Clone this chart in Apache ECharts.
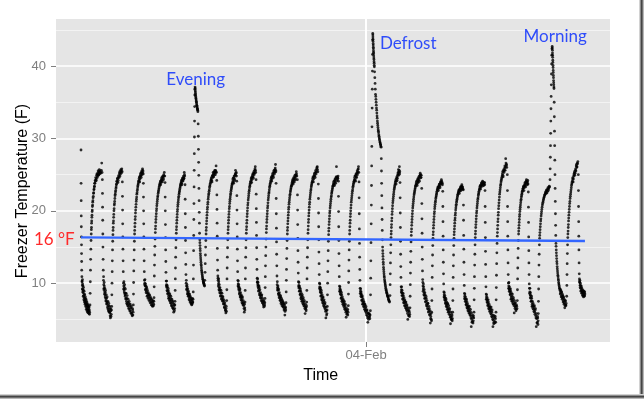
<!DOCTYPE html>
<html><head><meta charset="utf-8">
<script src="https://cdn.jsdelivr.net/npm/echarts@6/dist/echarts.min.js"></script>
<style>html,body{margin:0;padding:0;background:#fff}#c{width:644px;height:399px}</style>
</head><body><div id="c"></div>
<script>
// first logger reading; every series time below is in minutes after it
const firstReading = '2014-02-03T12:00:00';
const xTickDates = ['2014-02-04T00:00:00'];
const yTicks = [10, 20, 30, 40];
const yMinorTicks = [5, 15, 25, 35, 45];
const refLabel = '16 °F';
// linear fit (minutes, °F)
const fitLine = [[0, 16.34], [1273, 15.83]];
// annotations: text, minutes, °F
const noteText = ['Evening', 'Defrost', 'Morning'];
const noteMin = [215.5, 755, 1118];
const noteTemp = [38.2, 43.1, 44.1];

// readings per compressor cycle: flat pairs [minute, °F, minute, °F, ...]
const c01 = [0,28.4, 0.2,23.8, 0.4,21.4, 0.6,19.3, 0.8,17.8, 1,16.4, 1.2,15.3, 1.4,14.1, 1.6,13, 1.8,11.8,
2.2,10.9, 2.8,10.3, 3.4,9.7, 4,9.9, 4.6,9.1, 5.3,8.7, 6,9, 6.7,8.3, 7.5,8, 8.3,8.5, 9,7.6, 9.8,7.9, 10.6,7.3, 11.4,7.7, 12.2,7, 13,7.4, 13.8,6.7, 14.6,7.1, 15.4,6.5, 16.2,6.9, 17,6.3, 17.8,6.7, 18.6,6.1, 19.4,6.5, 20.2,5.8, 21,6.3, 21.8,6,
22.7,7, 23.1,8.6, 23.5,10.2, 23.9,11.8, 24.3,13.3, 24.8,14.7, 25.3,15.9,
25.8,16.8, 26.4,17.7, 27,18.6, 27.7,19.4, 28.4,20.1, 29.2,20.8, 30,21.4, 31,22, 32,22.5, 33,23, 34,23.4, 35,23.8,
36.5,24.1, 38,24.4, 39.5,24.9, 41,24.6, 42.5,25.2, 44,24.9, 45.5,25.4, 47,25.1, 48.5,25.5, 50,25.2, 51.5,25.6, 52.3,26.6, 53.2,25.3];
const c02 = [53.9,24.3, 54.2,22.4, 54.5,20.5, 54.8,18.7, 55.1,16.8, 55.4,15, 55.8,13.3, 56.2,11.8,
56.7,10.4, 57.4,9.8, 58.1,9.3, 58.9,9.6, 59.7,8.8, 60.6,8.4, 61.5,8.7, 62.4,7.9, 63.4,7.5, 64.4,7.9, 65.4,7.1, 66.5,7.4, 67.6,6.8, 68.7,6.4, 69.8,6.9, 70.9,6.1, 72,6.5, 73.1,5.9, 74.2,5.2, 75.3,6.2, 76.4,5.7,
77.5,6.8, 77.9,8.4, 78.3,10, 78.7,11.6, 79.1,13.1, 79.6,14.6, 80.1,15.8,
80.6,16.7, 81.3,17.7, 82,18.6, 82.8,19.5, 83.6,20.3, 84.5,21, 85.5,21.7, 86.5,22.3, 87.6,22.8, 88.7,23.3, 89.8,23.7,
91,24, 92.5,24.5, 94,24.2, 95.5,24.9, 97,25.2, 98.5,24.8, 100,25.5, 101.5,25.2, 103,25.8, 104,25.4];
const c03 = [104.4,24, 104.7,22, 105,20.1, 105.3,18.2, 105.6,16.4, 105.9,14.7, 106.3,13.1, 106.7,11.6,
107.2,10, 108,9.6, 108.8,9.1, 109.7,9.4, 110.6,8.6, 111.6,8.2, 112.6,8.6, 113.7,7.8, 114.8,7.5, 116,7.9, 117.2,7.1, 118.4,7.4, 119.7,6.8, 121,7.2, 122.3,6.5, 123.6,6.9, 125,6.2, 126.4,6.6, 127.8,5.9, 129.2,5.5, 130.6,6.3, 131.6,6,
132.1,7, 132.5,8.5, 132.9,10.1, 133.3,11.7, 133.8,13.2, 134.3,14.6, 134.8,15.8,
135.3,16.8, 136,17.8, 136.8,18.8, 137.6,19.7, 138.5,20.5, 139.5,21.3, 140.5,21.9, 141.6,22.5, 142.7,23, 143.8,23.5, 145,23.9,
146.3,24.2, 147.6,24.7, 148.9,24.4, 150.2,25, 151.5,24.8, 152.8,25.3, 154.1,25, 155.3,25.8, 156.5,25.4, 157.2,25.1];
const c04 = [157.5,23.8, 157.8,21.9, 158.1,20, 158.4,18.2, 158.7,16.4, 159,14.7, 159.4,13.1, 159.8,11.6,
160.3,10.4, 161.1,10, 162,9.6, 163,9.9, 164,9.2, 165.1,8.9, 166.2,9.3, 167.4,8.6, 168.6,8.3, 169.9,8.7, 171.2,8, 172.5,8.3, 173.9,7.7, 175.3,8.1, 176.7,7.4, 178.1,7.8, 179.5,7.2, 180.9,6.8, 182.3,7.6, 183.6,7.1,
184.4,8, 184.8,9.5, 185.2,11, 185.6,12.5, 186.1,13.9, 186.6,15.1, 187.1,16.1,
187.7,17, 188.4,17.9, 189.2,18.8, 190.1,19.6, 191,20.3, 192,21, 193.1,21.6, 194.2,22.1, 195.4,22.6, 196.6,23, 197.9,23.4,
199.2,23.7, 200.6,24.1, 202,23.9, 203.4,24.4, 204.8,24.2, 206.2,24.7, 207.6,24.5, 209,25, 210.4,25.3, 211.6,24.8];
const c05 = [212.3,23.9, 212.6,21.9, 212.9,20, 213.2,18.1, 213.5,16.3, 213.8,14.6, 214.2,13, 214.6,11.5,
215.1,10.3, 215.9,9.8, 216.7,9.4, 217.6,9.7, 218.5,8.9, 219.5,8.6, 220.5,9, 221.6,8.2, 222.7,7.9, 223.9,8.3, 225.1,7.6, 226.3,7.9, 227.6,7.2, 228.9,7.6, 230.2,6.9, 231.5,7.3, 232.8,6.6, 234.1,6, 235.4,6.9, 236.6,6.5,
237.4,7.5, 237.8,9, 238.2,10.6, 238.6,12.1, 239.1,13.6, 239.6,14.9, 240.1,16,
240.7,16.9, 241.4,17.8, 242.2,18.7, 243,19.5, 243.9,20.2, 244.9,20.9, 245.9,21.5, 247,22, 248.1,22.5, 249.3,22.9, 250.5,23.3,
251.7,23.6, 253,24, 254.3,23.8, 255.6,24.3, 256.9,24.1, 258.2,24.6, 259.5,24.4, 260.8,25.3, 262,24.8];
const c06 = [262.8,23.6, 263.1,21.6, 263.4,19.6, 263.7,17.7, 264,15.9, 264.3,14.2, 264.7,12.6, 265.1,11.2,
265.6,10, 266.4,9.6, 267.3,9.2, 268.2,9.5, 269.2,8.8, 270.2,8.5, 271.3,8.9, 272.4,8.2, 273.6,7.9, 274.8,8.3, 276,7.6, 277.2,7.9, 278.4,7.3, 279.6,7, 280.8,7.6, 282,7.3, 283,7.8,
283.5,8.8, 283.8,10.6, 284.1,12.5, 284.4,14.5, 284.7,16.6, 285,18.8, 285.3,21, 285.6,23.3, 285.9,25.6, 286.2,27.9, 286.5,30.2, 286.8,32.4, 287.1,34.4, 287.4,36,
287.7,36.8, 288.1,37.1, 288.6,36.6, 289.2,36.2, 289.8,35.8, 290.5,35.5, 291.2,35.1, 292,34.8, 292.8,34.5, 293.6,34.2, 294.4,34, 295.2,33.7,
295.9,32, 296.3,30.3, 296.7,28.5, 297.1,26.7, 297.5,24.9, 297.9,23.1, 298.3,21.4, 298.7,19.8, 299.1,18.3, 299.5,16.9,
300,16, 300.6,15.2, 301.2,14.5, 301.9,13.8, 302.6,13.2, 303.4,12.6, 304.2,12.1, 305.1,11.6, 306,11.2, 307,10.8, 308,10.5, 309,10.2, 310,10, 311,9.8, 312,9.6];
const c07 = [312.8,10.4, 313.3,11.5, 313.8,12.7, 314.3,13.9, 314.8,15, 315.3,15.9,
315.9,16.8, 316.6,17.7, 317.4,18.6, 318.2,19.4, 319.1,20.2, 320.1,20.9, 321.2,21.6, 322.3,22.2, 323.5,22.7, 324.7,23.2, 326,23.6,
327.4,24, 328.8,24.4, 330.2,24.2, 331.6,24.8, 333,24.6, 334.4,25.1, 335.8,24.9, 337.2,25.4, 338.6,25.2, 340,25.6, 341.2,26.2, 342.2,25.3];
const c08 = [342.9,24.2, 343.2,22.2, 343.5,20.2, 343.8,18.3, 344.1,16.5, 344.4,14.8, 344.8,13.2, 345.2,11.8,
345.7,11, 346.4,10.4, 347.2,9.9, 348,10.2, 348.9,9.4, 349.9,9, 350.9,9.4, 352,8.6, 353.1,8.3, 354.3,8.7, 355.5,7.9, 356.7,8.2, 358,7.5, 359.3,7.8, 360.6,7.1, 361.9,6.7, 363.2,7.3, 364.5,6.3, 365.8,5.9, 367,6.8,
368,7.6, 368.4,9.1, 368.8,10.6, 369.2,12.1, 369.7,13.6, 370.2,14.9, 370.7,16,
371.3,16.9, 372,17.8, 372.8,18.7, 373.6,19.5, 374.5,20.3, 375.5,21, 376.5,21.6, 377.6,22.2, 378.7,22.7, 379.9,23.1, 381.1,23.5,
382.4,23.8, 383.7,24.3, 385,24, 386.3,24.6, 387.6,24.4, 388.9,24.9, 390.2,25.6, 391.5,25.2, 392.7,24.8];
const c09 = [393.4,24.1, 393.7,22.1, 394,20.1, 394.3,18.2, 394.6,16.4, 394.9,14.7, 395.3,13.1, 395.7,11.6,
396.2,10.4, 396.9,9.9, 397.7,9.5, 398.5,9.8, 399.4,9, 400.4,8.7, 401.4,9.1, 402.5,8.3, 403.6,8, 404.8,8.4, 406,7.6, 407.2,7.9, 408.5,7.2, 409.8,7.6, 411.1,6.9, 412.4,6, 413.6,6.6,
414.3,7.4, 414.7,9, 415.1,10.6, 415.5,12.1, 416,13.6, 416.5,14.9, 417,16,
417.6,16.9, 418.3,17.8, 419.1,18.7, 419.9,19.6, 420.8,20.4, 421.8,21.1, 422.9,21.8, 424,22.4, 425.2,22.9, 426.4,23.4, 427.7,23.8,
429,24.1, 430.4,24.6, 431.8,24.3, 433.2,24.9, 434.6,24.7, 436,25.2, 437.4,25, 438.8,25.6, 440.2,26.1, 441.4,25.3];
const c10 = [442.2,24.3, 442.5,22.3, 442.8,20.3, 443.1,18.4, 443.4,16.6, 443.7,14.9, 444.1,13.3, 444.5,11.9,
445,10.7, 445.7,10.2, 446.5,9.8, 447.3,10.1, 448.2,9.3, 449.2,9, 450.2,9.4, 451.3,8.6, 452.4,8.3, 453.6,8.7, 454.8,7.9, 456,8.2, 457.3,7.5, 458.6,7.9, 459.9,7.2, 461.2,6.7, 462.5,7.4, 463.8,7,
464.8,7.9, 465.2,9.4, 465.6,10.9, 466,12.4, 466.5,13.8, 467,15, 467.5,16.1,
468.1,17, 468.8,17.9, 469.6,18.8, 470.4,19.6, 471.3,20.4, 472.3,21.1, 473.4,21.8, 474.5,22.4, 475.7,22.9, 476.9,23.4, 478.2,23.8,
479.5,24.2, 481,24.7, 482.5,24.4, 484,25, 485.5,24.8, 487,25.4, 488.5,25.1, 490,25.7, 491.3,26.4, 492.2,25.4];
const c11 = [492.7,23.8, 493,21.7, 493.3,19.6, 493.6,17.6, 493.9,15.7, 494.2,14, 494.6,12.4, 495,11,
495.5,9.8, 496.3,9.4, 497.1,9, 498,9.3, 499,8.6, 500,8.3, 501.1,8.7, 502.2,8, 503.4,7.7, 504.6,8.1, 505.8,7.4, 507.1,7.7, 508.4,7.1, 509.7,7.4, 511,6.8, 512.3,7.1, 513.6,6.5, 514.9,5.6, 516.2,6.7, 517.2,6.3,
517.9,7.3, 518.3,8.8, 518.7,10.4, 519.1,11.9, 519.6,13.4, 520.1,14.8, 520.6,15.9,
521.2,16.8, 521.9,17.7, 522.7,18.6, 523.5,19.4, 524.4,20.2, 525.4,20.9, 526.5,21.5, 527.6,22.1, 528.8,22.6, 530,23, 531.3,23.4,
532.6,23.7, 534,24.1, 535.4,23.9, 536.8,24.4, 538.2,24.2, 539.6,24.7, 541,24.5, 542.4,25, 543.8,25.4, 545.2,24.8];
const c12 = [546.5,24.3, 546.8,22.2, 547.1,20.1, 547.4,18.1, 547.7,16.2, 548,14.5, 548.4,12.9, 548.8,11.4,
549.3,10.2, 550.1,9.7, 550.9,9.3, 551.8,9.6, 552.8,8.9, 553.8,8.5, 554.9,8.9, 556,8.1, 557.2,7.8, 558.4,8.2, 559.6,7.5, 560.9,7.8, 562.2,7.1, 563.5,7.4, 564.8,6.8, 566.1,5.8, 567.4,6.6, 568.7,6.2, 569.6,6.9,
570.1,7.4, 570.5,9, 570.9,10.6, 571.3,12.1, 571.8,13.6, 572.3,14.9, 572.8,16,
573.4,16.9, 574.1,17.9, 574.9,18.8, 575.7,19.7, 576.6,20.5, 577.6,21.2, 578.7,21.9, 579.8,22.5, 581,23, 582.2,23.5, 583.5,23.9,
584.8,24.2, 586.3,24.7, 587.8,24.4, 589.3,25, 590.8,24.8, 592.3,25.3, 593.8,25.1, 595.3,25.8, 596.8,26.1, 598.3,25.4];
const c13 = [599.5,23.7, 599.8,21.7, 600.1,19.7, 600.4,17.8, 600.7,16, 601,14.3, 601.4,12.7, 601.8,11.2,
602.3,10, 603,9.5, 603.8,9.1, 604.6,9.4, 605.5,8.7, 606.5,8.3, 607.5,8.7, 608.6,7.9, 609.7,7.6, 610.9,8, 612.1,7.2, 613.3,7.5, 614.6,6.8, 615.9,7.1, 617.2,6.4, 618.5,5.2, 619.8,6.2, 621.1,5.8,
622.2,6.8, 622.6,8.4, 623,10, 623.4,11.6, 623.9,13.1, 624.4,14.5, 624.9,15.8,
625.5,16.7, 626.2,17.6, 627,18.5, 627.8,19.3, 628.7,20, 629.7,20.7, 630.8,21.3, 631.9,21.9, 633.1,22.4, 634.3,22.8, 635.6,23.2,
636.9,23.5, 638.3,23.9, 639.7,23.7, 641.1,24.2, 642.5,24, 643.9,24.5, 645.3,26.1, 646.7,24.7, 648.1,24.4, 649.4,24.8];
const c14 = [650.1,24.1, 650.4,22, 650.7,19.9, 651,17.8, 651.3,15.9, 651.6,14.1, 652,12.4, 652.4,10.9,
652.9,9.6, 653.7,9.2, 654.5,8.8, 655.4,9.1, 656.4,8.4, 657.4,8, 658.5,8.4, 659.6,7.7, 660.8,7.4, 662,7.8, 663.2,7, 664.5,7.3, 665.8,6.6, 667.1,6.9, 668.4,6.3, 669.7,5.3, 671,6.1, 672.3,5.8, 673.6,6.4, 674.6,6,
675.2,6.9, 675.6,8.5, 676,10.1, 676.4,11.7, 676.9,13.2, 677.4,14.6, 677.9,15.8,
678.5,16.8, 679.2,17.8, 680,18.7, 680.8,19.6, 681.7,20.4, 682.7,21.2, 683.8,21.8, 684.9,22.4, 686.1,22.9, 687.3,23.4, 688.6,23.8,
689.9,24.1, 691.3,24.6, 692.7,24.3, 694.1,24.9, 695.5,24.7, 696.9,25.2, 698.3,25, 699.7,25.7, 700.9,26.1, 701.8,25.3];
const c15 = [702.3,24, 702.6,21.8, 702.9,19.6, 703.2,17.5, 703.5,15.5, 703.8,13.6, 704.2,11.9, 704.6,10.4,
705.1,9.3, 705.9,8.9, 706.7,8.5, 707.6,8.8, 708.6,8.1, 709.6,7.7, 710.7,8.1, 711.8,7.4, 713,7.1, 714.2,7.5, 715.4,6.7, 716.7,7, 718,6.3, 719.3,6.6, 720.6,5.9, 721.9,6.2, 723.2,5.5, 724.5,4.6, 725.8,5.8, 727.1,5.3, 728.4,5.7, 729.7,5.1,
731,6.2, 731.4,8.4, 731.8,10.7, 732.2,13.1, 732.6,15.6, 733,18.2, 733.4,20.8, 733.8,23.5, 734.2,26.2, 734.6,28.9, 735,31.6, 735.4,34.2, 735.8,36.8, 736.1,39.3, 736.4,41.6, 736.7,43.6,
737,44.5, 737.4,44, 737.8,43.4, 738.2,42.9, 738.6,42.4, 739,41.9, 739.5,41.4, 740,40.9, 740.5,40.4, 741,39.9,
741.6,39.2, 742.2,38.4, 742.8,37.6, 743.4,36.8, 744,36.1,
744.6,35.8, 745.5,35, 746.4,34.2, 747.3,33.5, 748.2,32.8, 749.2,32.1, 750.2,31.5, 751.2,31, 752.3,30.5, 753.4,30.1, 754.5,29.7, 755.7,29.4, 756.9,29.1, 758.1,28.8,
758.6,27.2, 759,25.5, 759.4,23.8, 759.8,22.1, 760.2,20.4, 760.6,18.8, 761,17.3, 761.4,16,
761.9,15, 762.5,14.1, 763.1,13.3, 763.8,12.6, 764.6,11.9, 765.4,11.3, 766.3,10.8, 767.3,10.3, 768.3,9.9, 769.4,9.5, 770.5,9.1, 771.7,8.8, 772.9,8.6, 774.1,8.3, 775.4,8.1, 776.7,7.8, 778,7.6, 779.3,7.4];
const c16 = [780.5,8.3, 780.9,9.8, 781.3,11.3, 781.7,12.8, 782.2,14.2, 782.7,15.3,
783.2,16.3, 783.8,17.2, 784.5,18.1, 785.3,19, 786.2,19.9, 787.1,20.7, 788.1,21.4, 789.2,22, 790.3,22.6, 791.5,23.1, 792.7,23.5,
794,23.9, 795.3,24.3, 796.6,24.1, 797.9,24.7, 799.2,24.5, 800.5,25.1, 801.8,25.7, 803.1,25.3, 804.3,26.1, 805.3,25.4];
const c17 = [805.9,23.9, 806.2,21.8, 806.5,19.7, 806.8,17.7, 807.1,15.8, 807.4,14, 807.8,12.3, 808.2,10.8,
808.7,9.5, 809.5,9.1, 810.3,8.7, 811.2,9, 812.2,8.3, 813.2,7.9, 814.3,8.3, 815.4,7.6, 816.6,7.3, 817.8,7.7, 819,6.9, 820.3,7.2, 821.6,6.5, 822.9,6.8, 824.2,6.1, 825.5,5, 826.8,6.3, 828.1,5.6, 829.4,6, 830.4,5.7,
831,6.6, 831.4,8.2, 831.8,9.8, 832.2,11.4, 832.7,12.9, 833.2,14.4, 833.7,15.7,
834.3,16.6, 835,17.5, 835.8,18.4, 836.6,19.2, 837.5,20, 838.5,20.7, 839.6,21.3, 840.7,21.9, 841.9,22.4, 843.1,22.8, 844.4,23.2,
845.7,23.5, 847.1,23.9, 848.5,23.7, 849.9,24.2, 851.3,24, 852.7,24.5, 854.1,24.3, 855.5,24.8, 856.9,25.2, 858.3,24.6, 859.6,24.9];
const c18 = [860.7,23.1, 861,21, 861.3,18.9, 861.6,16.9, 861.9,15, 862.2,13.3, 862.6,11.7,
863.1,10.5, 863.8,9.6, 864.6,9.2, 865.5,9.5, 866.5,8.7, 867.5,8.3, 868.6,8.7, 869.7,7.9, 870.9,7.5, 872.1,7.9, 873.3,7.1, 874.6,6.8, 875.9,7.2, 877.2,6.4, 878.5,6.1, 879.8,6.5, 881.1,5.7, 882.4,4.5, 883.7,5.4, 885,5,
885.9,6, 886.3,7.6, 886.7,9.2, 887.1,10.8, 887.6,12.4, 888.1,13.9, 888.6,15.2,
889.2,16.2, 889.9,17.1, 890.7,18, 891.5,18.8, 892.4,19.6, 893.4,20.3, 894.5,20.9, 895.6,21.4, 896.8,21.9, 898,22.3, 899.3,22.7,
900.6,23, 902,23.3, 903.4,23.1, 904.8,23.6, 906.2,23.4, 907.6,23.8, 909,24, 910.4,24.3, 911.8,23.9, 913,23.6];
const c19 = [913.8,22.7, 914.1,20.6, 914.4,18.5, 914.7,16.5, 915,14.6, 915.3,12.9, 915.7,11.3, 916.1,9.9,
916.6,8.8, 917.4,8.4, 918.2,8, 919.1,8.3, 920.1,7.6, 921.1,7.3, 922.2,7.7, 923.3,7, 924.5,6.7, 925.7,7.1, 926.9,6.3, 928.2,6.6, 929.5,6, 930.8,6.3, 932.1,5.6, 933.4,4.4, 934.7,5.3, 936,5, 937.3,5.5, 938.3,5.1,
938.9,6, 939.3,7.6, 939.7,9.2, 940.1,10.8, 940.6,12.4, 941.1,13.9, 941.6,15.2,
942.2,16.2, 942.9,17.1, 943.7,17.9, 944.5,18.7, 945.4,19.4, 946.4,20.1, 947.5,20.7, 948.6,21.2, 949.8,21.6, 951,22, 952.3,22.3,
953.6,22.6, 955,22.9, 956.4,22.7, 957.8,23.1, 959.2,22.9, 960.6,23.3, 962,23.6, 963.4,23.2, 964.7,23];
const c20 = [965.8,22.9, 966.1,20.8, 966.4,18.7, 966.7,16.6, 967,14.7, 967.3,12.9, 967.7,11.2, 968.1,9.7,
968.6,8.6, 969.4,8.2, 970.3,7.8, 971.2,8.1, 972.2,7.4, 973.3,7.1, 974.4,7.5, 975.6,6.8, 976.8,6.5, 978,6.9, 979.3,6.2, 980.6,6.5, 981.9,5.8, 983.2,6.1, 984.5,5.5, 985.8,4, 987.1,5, 988.4,4.7, 989.7,5.3, 991,4.8, 992.1,5.2,
992.7,6, 993.1,7.7, 993.5,9.3, 993.9,10.9, 994.4,12.5, 994.9,14, 995.4,15.3,
996,16.3, 996.7,17.2, 997.5,18.1, 998.3,18.9, 999.2,19.7, 1000.2,20.4, 1001.3,21, 1002.4,21.6, 1003.6,22.1, 1004.8,22.5, 1006.1,22.9,
1007.4,23.2, 1008.8,23.5, 1010.2,23.3, 1011.6,23.8, 1013,23.6, 1014.4,24.1, 1015.8,23.8, 1017.2,23.5, 1018.6,23.9, 1019.8,23.6];
const c21 = [1020.6,22.8, 1020.9,20.6, 1021.2,18.4, 1021.5,16.3, 1021.8,14.4, 1022.1,12.6, 1022.5,10.9, 1022.9,9.5,
1023.4,8.5, 1024.2,8.1, 1025.1,7.7, 1026,8, 1027,7.3, 1028.1,7, 1029.2,7.4, 1030.4,6.7, 1031.6,6.4, 1032.8,6.8, 1034.1,6.1, 1035.4,6.4, 1036.7,5.7, 1038,6, 1039.3,5.3, 1040.6,4, 1041.9,4.9, 1043.2,4.6, 1044.5,5.2, 1045.8,4.7, 1047.1,5.1,
1048.3,6, 1048.7,7.7, 1049.1,9.4, 1049.5,11.1, 1050,12.7, 1050.5,14.2, 1051,15.5,
1051.6,16.5, 1052.3,17.5, 1053.1,18.5, 1053.9,19.4, 1054.8,20.3, 1055.8,21.1, 1056.9,21.9, 1058,22.6, 1059.2,23.2, 1060.4,23.7, 1061.7,24.2,
1063,24.6, 1064.4,25.1, 1065.8,24.9, 1067.2,25.5, 1068.6,25.3, 1070,25.9, 1071.4,25.6, 1072.8,27.2, 1074.2,26.3, 1075.6,26];
const c22 = [1076.9,25, 1077.2,22.8, 1077.5,20.6, 1077.8,18.5, 1078.1,16.5, 1078.4,14.6, 1078.8,12.8, 1079.2,11.2,
1079.7,10, 1080.5,9.6, 1081.4,9.2, 1082.3,9.5, 1083.3,8.8, 1084.4,8.5, 1085.5,8.9, 1086.7,8.1, 1087.9,7.8, 1089.1,8.2, 1090.4,7.5, 1091.7,7.8, 1093,7.1, 1094.3,5.9, 1095.6,7.2, 1096.9,6.7, 1098.2,6.9, 1099.5,6.4, 1100.8,6.8,
1102.1,7.6, 1102.5,9.1, 1102.9,10.6, 1103.3,12.1, 1103.8,13.5, 1104.3,14.8, 1104.8,15.9,
1105.4,16.8, 1106.1,17.6, 1106.9,18.4, 1107.7,19.2, 1108.6,19.9, 1109.6,20.5, 1110.7,21.1, 1111.8,21.6, 1113,22.1, 1114.2,22.5, 1115.5,22.8,
1116.8,23.1, 1118.2,23.4, 1119.6,23.2, 1121,23.7, 1122.4,23.5, 1123.8,23.9, 1125.2,24.3, 1126.6,23.8, 1128,24, 1129.2,23.7];
const c23 = [1130,22.6, 1130.3,20.5, 1130.6,18.4, 1130.9,16.4, 1131.2,14.5, 1131.5,12.8, 1131.9,11.2, 1132.3,9.9,
1132.8,9.3, 1133.6,8.8, 1134.5,8.4, 1135.4,8.7, 1136.4,7.9, 1137.5,7.5, 1138.6,7.9, 1139.8,7.1, 1141,6.8, 1142.2,7.2, 1143.5,6.4, 1144.8,6.7, 1146.1,6, 1147.4,6.3, 1148.7,5.5, 1150,4, 1151.3,5.1, 1152.6,4.6, 1153.9,5.2, 1154.8,4.8,
1155.2,5.8, 1155.6,7.5, 1156,9.2, 1156.4,10.9, 1156.9,12.5, 1157.4,14, 1157.9,15.3,
1158.5,16.2, 1159.3,17, 1160.2,17.8, 1161.2,18.6, 1162.3,19.3, 1163.5,19.9, 1164.8,20.5, 1166.2,21, 1167.7,21.4, 1169.2,21.8, 1170.8,22.1, 1172.4,22.3, 1174,22.6, 1175.6,22.8, 1177.2,22.5, 1178.8,23, 1180.4,22.8, 1182,23.2, 1183.6,23.3,
1184.8,24.3, 1185.2,25.8, 1185.6,27.4, 1186,29, 1186.4,30.7, 1186.8,32.4, 1187.2,34.1, 1187.6,35.8, 1188,37.4, 1188.4,38.9, 1188.8,40.3, 1189.2,41.5, 1189.7,42.4,
1190.3,42.7, 1190.8,42.2, 1191.3,41.5, 1191.8,40.8, 1192.3,40.1, 1192.8,39.4, 1193.3,38.7, 1193.8,38, 1194.3,37.4, 1194.8,36.9,
1195.3,35, 1195.7,33, 1196.1,31, 1196.5,29, 1196.9,27, 1197.3,25, 1197.7,23.1, 1198.1,21.3, 1198.5,19.6, 1198.9,18, 1199.3,16.6,
1199.8,15.5, 1200.5,14.6, 1201.2,13.8, 1202,13, 1202.8,12.3, 1203.7,11.7, 1204.6,11.1, 1205.6,10.6, 1206.6,10.1, 1207.7,9.7, 1208.8,9.3, 1210,9, 1211.2,8.7, 1212.4,8.9, 1213.6,8.3, 1214.8,8.6, 1216,8, 1217.2,8.2, 1218.4,7.6, 1219.6,7.9, 1220.8,7.3, 1222,6.6, 1223.2,7.5, 1224.4,7, 1225.6,7.2];
const c24 = [1226.9,8.2, 1227.3,9.7, 1227.7,11.2, 1228.1,12.7, 1228.6,14.1, 1229.1,15.3,
1229.7,16.3, 1230.4,17.2, 1231.2,18.1, 1232,19, 1232.9,19.8, 1233.9,20.6, 1235,21.3, 1236.1,22, 1237.3,22.6, 1238.5,23.2, 1239.8,23.7,
1241.1,24.1, 1242.5,24.6, 1243.9,24.4, 1245.3,25, 1246.7,25.4, 1248.1,25.2, 1249.5,25.8, 1250.9,26.2, 1252.3,26, 1253.7,26.6, 1255.1,26.8,
1256.3,25, 1256.6,22.8, 1256.9,20.6, 1257.2,18.5, 1257.5,16.5, 1257.8,14.6, 1258.2,12.8, 1258.6,11.3,
1259.1,10.6, 1259.8,10.1, 1260.6,9.7, 1261.4,10, 1262.3,9.3, 1263.3,9, 1264.3,9.4, 1265.4,8.7, 1266.5,8.9, 1267.6,8.4, 1268.7,8.7, 1269.8,8.3, 1270.9,8.6, 1272,8.3, 1273,8.5];

// additional readings in the slow (dense) phases of each cycle
const e01 = [2.5,10.2, 3.1,9.2, 3.7,10.5, 4.3,8.8, 5,9.6, 5.6,8.2, 6.4,9.4, 7.1,7.7, 7.9,8.9, 8.7,7.4, 9.4,8.4, 10.2,7.1, 11,8.1, 11.8,6.8, 12.6,7.8, 13.4,6.4, 14.2,7.5, 15,6.2, 15.8,7.2, 16.6,6, 17.4,7, 18.2,5.9, 19,6.8, 19.8,6.2, 20.6,6.7, 21.4,5.7,
26.1,17.4, 26.7,18.3, 27.4,19.1, 28.1,19.9, 28.8,20.6, 29.6,21.2, 30.5,21.8, 31.5,22.4, 32.5,22.9, 33.5,23.3, 34.5,23.8, 35.7,24.2, 37.2,24.6, 38.7,24.2, 40.2,25.1, 41.7,24.8, 43.2,25.5, 44.7,25, 46.2,25.7, 47.7,25.3];
const e02 = [57,10.9, 57.8,9.1, 58.5,10.1, 59.3,8.5, 60.1,9.3, 61,8.1, 62,9, 63,7.6, 63.9,8.4, 65,7.2, 66,8.1, 67,6.6, 68.1,7.5, 69.2,6.2, 70.3,7.2, 71.4,6, 72.5,6.8, 73.6,5.5, 74.7,6.5, 75.8,5.4, 76.9,6.3,
80.9,17.3, 81.6,18.3, 82.4,19.1, 83.2,20, 84.1,20.8, 85,21.3, 86,22.1, 87,22.6, 88.2,23.1, 89.3,23.6, 90.4,24.1, 91.8,24.4, 93.3,23.9, 94.8,24.7, 96.3,24.6, 97.8,25.4, 99.3,25.1, 100.8,25.7, 102.3,25.5];
const e03 = [107.6,9.2, 108.4,10.2, 109.2,8.8, 110.1,9.8, 111.1,8.4, 112.1,9.2, 113.1,7.9, 114.2,8.6, 115.4,7.2, 116.6,8.3, 117.8,6.9, 119,7.8, 120.3,6.5, 121.6,7.5, 122.9,6.2, 124.3,7.1, 125.7,5.9, 127.1,6.8, 128.5,5.7, 129.9,6.5, 131.1,5.6,
135.6,17.3, 136.4,18.3, 137.2,19.2, 138,20.1, 139,20.9, 140,21.6, 141,22.3, 142.1,22.8, 143.2,23.3, 144.4,23.7, 145.6,24.1, 147,24.5, 148.2,24, 149.6,24.8, 150.9,25.2, 152.1,24.6, 153.4,25.5, 154.7,25.2, 156,25.6];
const e04 = [160.7,9.8, 161.5,10.5, 162.5,9.1, 163.5,9.6, 164.5,8.7, 165.6,9.5, 166.8,8.2, 168,9, 169.2,7.9, 170.5,8.5, 171.8,7.6, 173.2,8.4, 174.6,7.3, 176,7.9, 177.4,7, 178.8,7.6, 180.2,6.9, 181.6,7.4, 183,6.9, 184,7.5,
188,17.5, 188.8,18.4, 189.6,19.2, 190.5,20, 191.5,20.7, 192.5,21.3, 193.6,21.9, 194.8,22.4, 196,22.8, 197.2,23.2, 198.5,23.6, 199.9,23.9, 201.3,23.6, 202.7,24.2, 204.1,24.6, 205.5,24, 206.9,24.8, 208.3,24.3, 209.7,24.8];
const e05 = [215.5,9.6, 216.3,10.3, 217.2,9, 218.1,9.5, 219,8.5, 220,9.3, 221.1,7.9, 222.2,8.7, 223.3,7.6, 224.5,8.5, 225.7,7.3, 227,8.2, 228.3,6.9, 229.6,7.8, 230.9,6.6, 232.2,7.5, 233.5,6.4, 234.8,7.1, 236,6.2, 237,7,
241,17.4, 241.8,18.3, 242.6,19.1, 243.4,19.9, 244.4,20.6, 245.4,21.2, 246.4,21.8, 247.6,22.3, 248.7,22.7, 249.9,23.1, 251.1,23.5, 252.4,23.8, 253.7,24.2, 255,23.6, 256.3,24.5, 257.6,24.2, 258.9,24.8, 260.2,24.5, 261.4,25];
const e06 = [266,10.4, 266.8,9.1, 267.7,9.8, 268.7,8.5, 269.7,9.2, 270.7,8.2, 271.8,8.6, 273,7.7, 274.2,8.5, 275.4,7.4, 276.6,8.1, 277.8,7.2, 279,7.7, 280.2,7.1, 281.4,7.9, 282.5,7.4,
288.4,36.9, 288.9,36.4, 289.5,36, 290.1,35.6, 290.8,35.3, 291.6,35, 292.4,34.6, 293.2,34.4, 294,34.1, 294.8,33.9,
300.3,15.6, 300.9,14.8, 301.5,14.1, 302.2,13.5, 303,12.9, 303.8,12.4, 304.6,11.8, 305.5,11.4, 306.5,11, 307.5,10.6, 308.5,10.3, 309.5,10.1, 310.5,9.9, 311.5,9.7];
const e07 = [316.2,17.3, 317,18.2, 317.8,19, 318.6,19.8, 319.6,20.5, 320.6,21.2, 321.7,21.9, 322.9,22.4, 324.1,22.9, 325.3,23.4, 326.7,23.8, 328.1,24.2, 329.5,24.6, 330.9,24, 332.3,24.9, 333.7,25.3, 335.1,24.7, 336.5,25.3, 337.9,25.6, 339.3,25, 340.6,25.4];
const e08 = [346,10.7, 346.8,9.6, 347.6,10.6, 348.4,9.1, 349.4,9.8, 350.4,8.7, 351.4,9.1, 352.5,8.2, 353.7,9, 354.9,7.8, 356.1,8.6, 357.3,7.6, 358.6,8.1, 359.9,7.2, 361.2,7.6, 362.5,6.6, 363.8,7, 365.1,6.2, 366.4,6.5, 367.5,6.1,
371.6,17.4, 372.4,18.3, 373.2,19.1, 374,19.9, 375,20.6, 376,21.3, 377,21.9, 378.1,22.4, 379.3,22.9, 380.5,23.3, 381.7,23.7, 383,24, 384.3,24.5, 385.6,23.8, 386.9,24.8, 388.2,24.2, 389.5,25.1, 390.8,24.9, 392.1,25.3];
const e09 = [396.5,9.6, 397.3,10.3, 398.1,9.2, 399,9.5, 399.9,8.5, 400.9,9.3, 402,8.1, 403.1,8.7, 404.2,7.7, 405.4,8.2, 406.6,7.3, 407.9,8.1, 409.2,7, 410.5,7.3, 411.7,6.5, 413,7.1, 414,6.3,
417.9,17.4, 418.7,18.3, 419.5,19.2, 420.3,20, 421.3,20.8, 422.3,21.5, 423.5,22.1, 424.6,22.7, 425.8,23.2, 427,23.6, 428.3,24, 429.7,24.4, 431.1,23.9, 432.5,24.7, 433.9,25.1, 435.3,24.5, 436.7,25.4, 438.1,25.2, 439.5,25.8, 440.8,25.6];
const e10 = [445.3,10.1, 446.1,10.6, 446.9,9.5, 447.8,9.7, 448.7,8.9, 449.7,9.6, 450.8,8.4, 451.9,9.1, 453,8, 454.2,8.4, 455.4,7.6, 456.7,8.4, 458,7.3, 459.3,7.6, 460.6,7, 461.9,7.6, 463.2,6.8, 464.3,7.3,
468.4,17.5, 469.2,18.4, 470,19.2, 470.8,20, 471.8,20.7, 472.8,21.5, 473.9,22.1, 475.1,22.6, 476.3,23.2, 477.5,23.6, 478.8,24, 480.3,24.5, 481.7,24.1, 483.2,24.8, 484.7,25.2, 486.2,24.6, 487.7,25.6, 489.2,25.3, 490.6,25.9, 491.8,25.6];
const e11 = [495.9,10.2, 496.7,9.1, 497.5,9.6, 498.5,8.5, 499.5,9.1, 500.5,8, 501.6,8.4, 502.8,7.6, 504,8.3, 505.2,7.2, 506.4,7.9, 507.7,6.9, 509,7.6, 510.3,6.7, 511.6,7.3, 512.9,6.3, 514.2,7, 515.5,6.1, 516.7,6.6,
521.5,17.3, 522.3,18.2, 523.1,19, 524,19.8, 524.9,20.5, 525.9,21.2, 527,21.8, 528.2,22.3, 529.4,22.8, 530.6,23.2, 532,23.5, 533.3,23.9, 534.7,24.3, 536.1,23.7, 537.5,24.6, 538.9,24, 540.3,24.9, 541.7,24.3, 543.1,24.8, 544.5,25.1];
const e12 = [549.7,9.5, 550.5,10.1, 551.4,8.9, 552.3,9.4, 553.3,8.4, 554.3,9.2, 555.4,7.9, 556.6,8.6, 557.8,7.5, 559,8.4, 560.2,7.2, 561.5,8, 562.8,6.9, 564.1,7.6, 565.4,6.5, 566.7,7.1, 568,6.4, 569.2,6.7,
573.7,17.4, 574.5,18.4, 575.3,19.3, 576.2,20.1, 577.1,20.9, 578.1,21.6, 579.2,22.2, 580.4,22.8, 581.6,23.3, 582.8,23.7, 584.1,24, 585.5,24.5, 587,24, 588.5,24.8, 590,25.2, 591.5,24.6, 593,25.6, 594.5,25.4, 596,26, 597.5,25.7];
const e13 = [602.6,9.3, 603.4,9.9, 604.2,8.8, 605,9.2, 606,8.2, 607,9, 608,7.7, 609.1,8.4, 610.3,7.3, 611.5,8.1, 612.7,6.9, 613.9,7.7, 615.2,6.6, 616.5,7.3, 617.8,6.1, 619.1,6.7, 620.4,5.6, 621.6,6.3,
625.8,17.2, 626.6,18.1, 627.4,18.9, 628.2,19.7, 629.2,20.4, 630.2,21, 631.3,21.6, 632.5,22.1, 633.7,22.6, 634.9,23, 636.2,23.4, 637.6,23.7, 639,24.1, 640.4,23.5, 641.8,24.4, 643.2,23.8, 644.6,24.7, 646,24.2, 647.4,24.6, 648.8,24.5];
const e14 = [653.3,8.9, 654.1,9.5, 655,8.5, 655.9,8.9, 656.9,7.9, 657.9,8.7, 659,7.5, 660.2,8.1, 661.4,7.1, 662.6,7.6, 663.8,6.8, 665.1,7.5, 666.4,6.4, 667.7,7.1, 669,6, 670.3,6.6, 671.6,5.7, 672.9,6.2, 674.1,5.6,
678.8,17.3, 679.6,18.3, 680.4,19.2, 681.2,20, 682.2,20.8, 683.2,21.5, 684.3,22.1, 685.5,22.7, 686.7,23.2, 687.9,23.6, 689.2,24, 690.6,24.3, 692,24.8, 693.4,24.1, 694.8,25.1, 696.2,24.6, 697.6,25.5, 699,25.3, 700.3,25.8];
const e15 = [705.5,8.6, 706.3,9.2, 707.1,8.2, 708.1,8.5, 709.1,7.6, 710.1,8.3, 711.2,7.1, 712.4,7.8, 713.6,6.8, 714.8,7.3, 716,6.4, 717.3,7.1, 718.6,6.1, 719.9,6.8, 721.2,5.6, 722.5,6.3, 723.8,5.2, 725.1,5.9, 726.4,5, 727.7,5.8, 729,5.4, 730.3,5.6,
737.2,44.3, 737.6,43.7, 738,43.1, 738.4,42.6, 738.8,42.1, 739.2,41.7, 739.7,41.1, 740.2,40.6, 740.7,40.1,
745,35.4, 746,34.6, 746.9,33.9, 747.8,33.1, 748.7,32.4, 749.7,31.8, 750.7,31.2, 751.7,30.8, 752.8,30.3, 753.9,29.9, 755.1,29.5, 756.3,29.2, 757.5,28.9,
762.2,14.5, 762.8,13.7, 763.5,12.9, 764.2,12.2, 765,11.6, 765.8,11, 766.8,10.5, 767.8,10.1, 768.8,9.7, 769.9,9.3, 771.1,9, 772.3,8.7, 773.5,8.4, 774.8,8.2, 776,8, 777.3,7.7, 778.6,7.5];
const e16 = [783.5,16.8, 784.1,17.7, 784.9,18.6, 785.7,19.5, 786.6,20.3, 787.6,21.1, 788.6,21.7, 789.7,22.3, 790.9,22.9, 792.1,23.3, 793.3,23.7, 794.7,24.1, 796,23.7, 797.2,24.5, 798.5,24.2, 799.8,24.9, 801.1,25.3, 802.4,24.9, 803.7,25.6, 804.9,25.1];
const e17 = [809.1,8.8, 809.9,9.5, 810.7,8.3, 811.7,8.6, 812.7,7.8, 813.7,8.6, 814.8,7.3, 816,8, 817.2,6.9, 818.4,7.5, 819.6,6.6, 820.9,7.4, 822.2,6.3, 823.5,7, 824.8,5.8, 826.1,6.6, 827.4,5.5, 828.7,6.2, 830,5.4,
834.6,17.1, 835.4,18, 836.2,18.8, 837,19.6, 838,20.4, 839,21, 840.1,21.6, 841.3,22.2, 842.5,22.6, 843.7,23, 845,23.4, 846.4,23.7, 847.8,24.1, 849.2,23.5, 850.6,24.4, 852,23.9, 853.4,24.7, 854.8,24.1, 856.2,24.9, 857.6,25, 859,24.6];
const e18 = [863.4,10.1, 864.2,8.9, 865,9.9, 866,8.4, 867,9.1, 868,7.9, 869.1,8.4, 870.3,7.4, 871.5,8.2, 872.7,6.9, 873.9,7.6, 875.2,6.5, 876.5,7.2, 877.8,6, 879.1,6.8, 880.4,5.6, 881.7,6.2, 883,5.1, 884.3,5.8, 885.4,4.8,
889.5,16.7, 890.3,17.6, 891.1,18.4, 892,19.2, 892.9,19.9, 893.9,20.6, 895,21.2, 896.2,21.7, 897.4,22.1, 898.6,22.5, 899.9,22.9, 901.3,23.2, 902.7,22.8, 904.1,23.4, 905.5,23.7, 906.9,23.2, 908.3,24, 909.7,23.7, 911.1,24.1, 912.4,23.8];
const e19 = [917,8.1, 917.8,8.7, 918.6,7.7, 919.6,8, 920.6,7.2, 921.6,7.9, 922.7,6.8, 923.9,7.4, 925.1,6.4, 926.3,7.2, 927.5,6, 928.8,6.9, 930.1,5.7, 931.4,6.5, 932.7,5.3, 934,6, 935.3,5, 936.6,5.7, 937.8,4.8,
942.5,16.7, 943.3,17.5, 944.1,18.3, 945,19, 945.9,19.7, 946.9,20.4, 948,20.9, 949.2,21.4, 950.4,21.8, 951.6,22.2, 952.9,22.5, 954.3,22.8, 955.7,22.4, 957.1,23, 958.5,23.3, 959.9,22.8, 961.3,23.4, 962.7,23, 964,23.3];
const e20 = [969,7.9, 969.8,8.5, 970.7,7.5, 971.7,7.8, 972.7,7, 973.8,7.8, 974.9,6.6, 976.2,7.2, 977.4,6.2, 978.6,6.7, 979.9,5.9, 981.2,6.8, 982.5,5.6, 983.8,6.4, 985.1,5.2, 986.4,5.9, 987.7,4.6, 989,5.6, 990.3,4.5, 991.6,5.5,
996.3,16.8, 997.1,17.7, 997.9,18.5, 998.7,19.3, 999.7,20, 1000.7,20.7, 1001.8,21.3, 1003,21.8, 1004.2,22.3, 1005.4,22.7, 1006.7,23, 1008.1,23.4, 1009.5,23, 1010.9,23.6, 1012.3,23.9, 1013.7,23.4, 1015.1,24, 1016.5,23.7, 1017.9,23.7, 1019.2,23.9];
const e21 = [1023.8,7.8, 1024.6,8.4, 1025.5,7.4, 1026.5,7.7, 1027.5,6.9, 1028.6,7.7, 1029.8,6.5, 1031,7.1, 1032.2,6.1, 1033.4,6.6, 1034.7,5.8, 1036,6.7, 1037.3,5.4, 1038.6,6.3, 1039.9,5, 1041.2,5.6, 1042.5,4.4, 1043.8,5.5, 1045.1,4.5, 1046.4,5.4, 1047.6,4.6,
1051.9,17, 1052.7,18, 1053.5,18.9, 1054.3,19.8, 1055.3,20.7, 1056.3,21.5, 1057.4,22.3, 1058.6,22.9, 1059.8,23.5, 1061,24, 1062.3,24.4, 1063.7,24.8, 1065.1,25.4, 1066.5,24.7, 1067.9,25.7, 1069.3,25.6, 1070.7,26.2, 1072.1,26, 1073.5,26.6, 1074.9,26.4];
const e22 = [1080.1,9.3, 1080.9,10.1, 1081.8,8.9, 1082.8,9.2, 1083.8,8.4, 1084.9,9.2, 1086.1,7.8, 1087.3,8.6, 1088.5,7.5, 1089.7,8.5, 1091,7.2, 1092.3,8, 1093.6,6.9, 1094.9,7.6, 1096.2,6.5, 1097.5,7.3, 1098.8,6.2, 1100.1,7, 1101.4,6.5,
1105.7,17.2, 1106.5,18, 1107.3,18.8, 1108.1,19.5, 1109.1,20.2, 1110.1,20.8, 1111.2,21.4, 1112.4,21.9, 1113.6,22.3, 1114.8,22.7, 1116.1,23, 1117.5,23.3, 1118.9,22.8, 1120.3,23.5, 1121.7,23.9, 1123.1,23.3, 1124.5,24.1, 1125.9,24, 1127.3,23.6, 1128.6,24.2];
const e23 = [1133.2,8.6, 1134,9.3, 1134.9,8, 1135.9,8.3, 1136.9,7.5, 1138,8.2, 1139.2,6.8, 1140.4,7.5, 1141.6,6.5, 1142.8,6.9, 1144.1,6.1, 1145.4,6.9, 1146.7,5.7, 1148,6.5, 1149.3,5.2, 1150.6,5.8, 1151.9,4.5, 1153.2,5.4, 1154.4,4.3,
1158.8,16.6, 1159.7,17.4, 1160.7,18.2, 1161.7,18.9, 1162.9,19.6, 1164.1,20.2, 1165.5,20.8, 1166.9,21.2, 1168.4,21.6, 1170,21.9, 1171.6,22.2, 1173.2,22.5, 1174.8,22.4, 1176.4,22.9, 1178,22.7, 1179.6,23.2, 1181.2,23, 1182.8,23.4,
1190.5,42.5, 1191,41.8, 1191.5,41.2, 1192,40.5, 1192.5,39.8, 1193,39.1, 1193.5,38.4, 1194,37.7, 1194.6,37.1,
1200.1,15.1, 1200.8,14.2, 1201.6,13.4, 1202.4,12.7, 1203.2,12, 1204.1,11.4, 1205.1,10.9, 1206.1,10.4, 1207.1,9.9, 1208.2,9.5, 1209.4,9.2, 1210.6,8.5, 1211.8,9.1, 1213,8.1, 1214.2,8.8, 1215.4,7.8, 1216.6,8.4, 1217.8,7.4, 1219,8.1, 1220.2,7.1, 1221.4,7.7, 1222.6,6.9, 1223.8,7.6, 1225,6.9];
const e24 = [1230,16.8, 1230.8,17.7, 1231.6,18.6, 1232.4,19.4, 1233.4,20.2, 1234.4,21, 1235.5,21.7, 1236.7,22.3, 1237.9,22.9, 1239.1,23.5, 1240.4,23.9, 1241.8,24.4, 1243.2,24, 1244.6,24.8, 1246,25.2, 1247.4,24.9, 1248.8,25.6, 1250.2,25.5, 1251.6,26.4, 1253,26.1, 1254.4,26.5,
1259.4,10.2, 1260.2,10.4, 1261,9.4, 1261.8,9.7, 1262.8,8.9, 1263.8,9.6, 1264.8,8.6, 1265.9,9.2, 1267,8.3, 1268.1,9, 1269.2,8.1, 1270.3,8.9, 1271.4,8.2, 1272.5,8.8];

const cycles = [c01,c02,c03,c04,c05,c06,c07,c08,c09,c10,c11,c12,c13,c14,c15,c16,c17,c18,c19,c20,c21,c22,c23,c24,
  e01,e02,e03,e04,e05,e06,e07,e08,e09,e10,e11,e12,e13,e14,e15,e16,e17,e18,e19,e20,e21,e22,e23,e24];

const t0 = new Date(firstReading).getTime();
const MIN = 60000;
const toTime = m => t0 + m * MIN;
const points = [];
cycles.forEach(c => { for (let i = 0; i < c.length; i += 2) points.push([toTime(c[i]), c[i + 1]]); });
const fitData = fitLine.map(p => [toTime(p[0]), p[1]]);
const noteData = noteText.map((n, i) => ({ name: n, value: [toTime(noteMin[i]), noteTemp[i]] }));
const xTicks = xTickDates.map(d => new Date(d).getTime());
const MONTHS = ['Jan','Feb','Mar','Apr','May','Jun','Jul','Aug','Sep','Oct','Nov','Dec'];
const fmtDate = v => { const d = new Date(v); return String(d.getDate()).padStart(2, '0') + '-' + MONTHS[d.getMonth()]; };

const FONT = "'Liberation Sans', Arial, sans-serif";
const chart = echarts.init(document.getElementById('c'), null, { renderer: 'canvas' });
const yMin = 1.88, yMax = 46.5;
chart.setOption({
  animation: false,
  backgroundColor: '#ffffff',
  grid: { left: 56, right: 34, top: 19, bottom: 57, show: true, backgroundColor: '#e5e5e5', borderWidth: 0, containLabel: false, outerBoundsMode: 'none' },
  xAxis: {
    type: 'value', min: toTime(-63.2), max: toTime(1336.3), scale: true,
    axisLine: { show: false },
    axisTick: { show: true, customValues: xTicks, length: 5, lineStyle: { color: '#7f7f7f', width: 1 } },
    axisLabel: { customValues: xTicks, formatter: v => fmtDate(v), color: '#7f7f7f', fontSize: 13, fontFamily: FONT, margin: 7 },
    splitLine: { show: true, lineStyle: { color: '#ffffff', width: 2 } }
  },
  yAxis: [{
    type: 'value', min: yMin, max: yMax,
    axisLine: { show: false },
    axisTick: { show: true, customValues: yTicks, length: 5, lineStyle: { color: '#7f7f7f', width: 1 } },
    axisLabel: { customValues: yTicks, color: '#7f7f7f', fontSize: 13, fontFamily: FONT, margin: 10 },
    splitLine: { show: true, lineStyle: { color: '#ffffff', width: 1.6 } }
  }, {
    type: 'value', min: yMin, max: yMax, position: 'left',
    axisLine: { show: false },
    axisTick: { show: false, customValues: yMinorTicks },
    axisLabel: { show: false, customValues: yMinorTicks },
    splitLine: { show: true, lineStyle: { color: '#f3f3f3', width: 1 } }
  }],
  series: [{
    type: 'scatter', data: points, symbol: 'circle', symbolSize: 2.8,
    itemStyle: { color: '#000000' }, silent: true, z: 2
  }, {
    type: 'line', data: fitData, showSymbol: false, silent: true, z: 3,
    lineStyle: { color: '#3366ff', width: 2.4 }
  }, {
    type: 'scatter', data: noteData, symbolSize: 0, silent: true, z: 4,
    label: { show: true, position: 'right', distance: 0, formatter: '{b}', color: '#0026ff', fontSize: 17, fontFamily: 'Lato, sans-serif' }
  }],
  graphic: [
    { type: 'text', x: 34, y: 240, z: 10, style: { text: refLabel, fill: '#ff2a2a', fontSize: 17, fontFamily: 'Lato, sans-serif', align: 'left', verticalAlign: 'middle' } },
    { type: 'text', x: 320.7, y: 376, z: 10, style: { text: 'Time', fill: '#000', fontSize: 16, fontFamily: FONT, align: 'center', verticalAlign: 'middle' } },
    { type: 'text', x: 22.4, y: 191, rotation: Math.PI / 2, z: 10, style: { text: 'Freezer Temperature (F)', fill: '#000', fontSize: 16, fontFamily: FONT, align: 'center', verticalAlign: 'middle' } },
    { type: 'rect', shape: { x: 639, y: 0, width: 1, height: 399 }, style: { fill: '#d2d2d2' }, z: 20 },
    { type: 'rect', shape: { x: 640, y: 0, width: 1, height: 399 }, style: { fill: '#8c8c8c' }, z: 20 },
    { type: 'rect', shape: { x: 641, y: 0, width: 1, height: 399 }, style: { fill: '#454545' }, z: 20 },
    { type: 'rect', shape: { x: 642, y: 0, width: 1, height: 399 }, style: { fill: '#707070' }, z: 20 },
    { type: 'rect', shape: { x: 643, y: 0, width: 1, height: 399 }, style: { fill: '#b8b8b8' }, z: 20 },
    { type: 'rect', shape: { x: 0, y: 394, width: 644, height: 1 }, style: { fill: '#d2d2d2' }, z: 20 },
    { type: 'rect', shape: { x: 0, y: 395, width: 644, height: 1 }, style: { fill: '#8c8c8c' }, z: 20 },
    { type: 'rect', shape: { x: 0, y: 396, width: 644, height: 1 }, style: { fill: '#454545' }, z: 20 },
    { type: 'rect', shape: { x: 0, y: 397, width: 644, height: 1 }, style: { fill: '#707070' }, z: 20 },
    { type: 'rect', shape: { x: 0, y: 398, width: 644, height: 1 }, style: { fill: '#b8b8b8' }, z: 20 }
  ]
});
</script></body></html>
